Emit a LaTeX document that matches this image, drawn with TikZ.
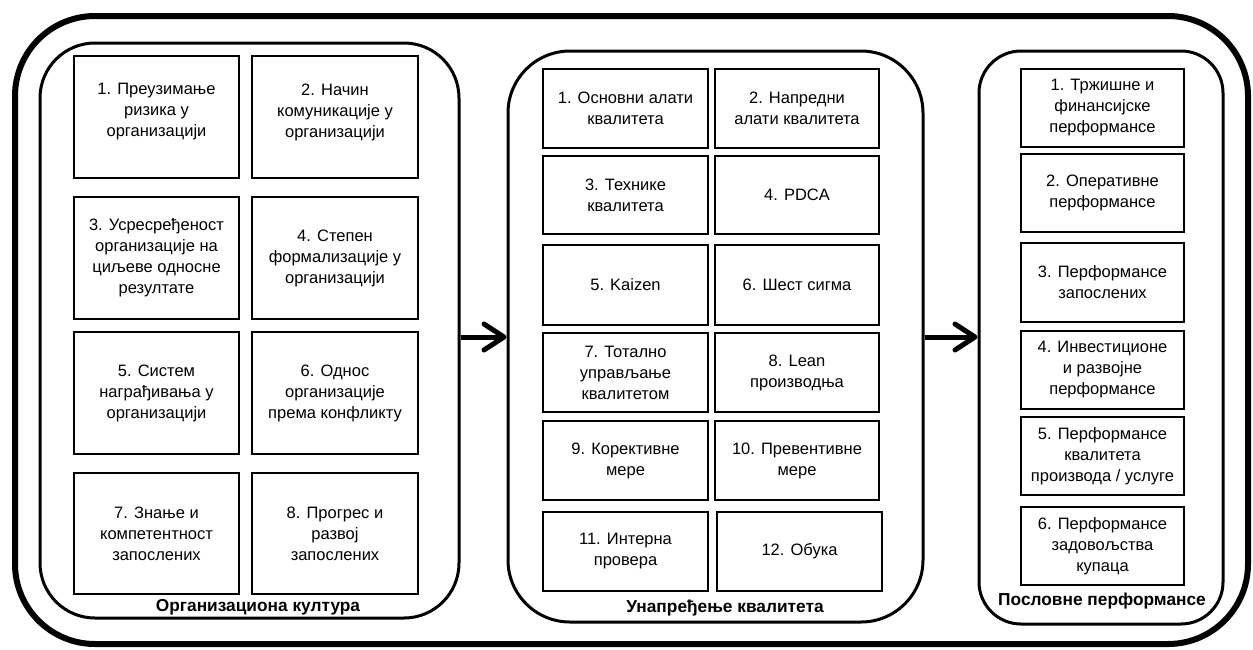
\documentclass[tikz,border=0pt]{standalone}
\usepackage{fontspec}
\setmainfont{Liberation Sans}
\usetikzlibrary{arrows.meta}

% a boxed cell given by its corners: [extra options] name, x1, y1, x2, y2, text
\newcommand\cellat[7][]{%
  \node[cell, #1, minimum width={#5-#3}, minimum height={#6-#4}] (#2)
    at ({(#3+#5)/2},{(#4+#6)/2}) {#7};}
% a rounded panel given by its corners: name, x1, y1, x2, y2, radius
\newcommand\panelat[6]{%
  \node[panel, rounded corners=#6, minimum width={#4-#2}, minimum height={#5-#3}] (#1)
    at ({(#2+#4)/2},{(#3+#5)/2}) {};}

\begin{document}
\begin{tikzpicture}[x=1pt, y=-1pt,
  cell/.style={draw, line width=2pt, inner sep=0pt, align=center,
    font=\fontsize{16.5}{21}\selectfont},
  raised/.style={text depth=13.5pt},
  panel/.style={draw, line width=3pt, inner sep=0pt},
  frame/.style={draw, line width=6pt, inner sep=0pt},
  paneltitle/.style={font=\bfseries\fontsize{17.3}{20}\selectfont, inner sep=0pt, anchor=base},
  flow/.style={line width=5pt, -{Straight Barb[length=20pt, width=26pt, round]}}
]
\useasboundingbox (0,0) rectangle (1253,649);

% outer frame
\node[frame, rounded corners=80pt, minimum width=1233, minimum height=628] (frame)
  at (631.5,330) {};

% the three panels
\panelat{p1}{40}{43}{459}{618}{55pt}
\panelat{p2}{508}{51}{923}{622}{62pt}
\panelat{p3}{979}{51}{1223}{624}{42pt}

% panel 1: organisational culture
\cellat[raised]{a1}{74}{56}{239}{178}{1. Преузимање\\ризика у\\организацији}
\cellat[raised]{a2}{252}{56}{418}{178}{2. Начин\\комуникације у\\организацији}
\cellat{a3}{74}{197}{239}{319}{3. Усресређеност\\организације на\\циљеве односне\\резултате}
\cellat{a4}{252}{197}{418}{319}{4. Степен\\формализације у\\организацији}
\cellat{a5}{74}{332}{239}{454}{5. Систем\\награђивања у\\организацији}
\cellat{a6}{252}{332}{418}{454}{6. Однос\\организације\\према конфликту}
\cellat{a7}{74}{473}{239}{594}{7. Знање и\\компетентност\\запослених}
\cellat{a8}{252}{473}{418}{594}{8. Прогрес и\\развој\\запослених}
\node[paneltitle] (t1) at (258,611) {Организациона култура};

% panel 2: quality improvement
\cellat{b1}{543}{69}{708}{148}{1. Основни алати\\квалитета}
\cellat{b2}{715}{69}{879}{148}{2. Напредни\\алати квалитета}
\cellat{b3}{543}{156}{708}{234}{3. Технике\\квалитета}
\cellat{b4}{715}{156}{879}{234}{4. PDCA}
\cellat{b5}{543}{245}{708}{325}{5. Kaizen}
\cellat{b6}{715}{245}{879}{325}{6. Шест сигма}
\cellat{b7}{543}{333}{708}{412}{7. Тотално\\управљање\\квалитетом}
\cellat{b8}{715}{333}{879}{412}{8. Lean\\производња}
\cellat{b9}{543}{421}{708}{500}{9. Корективне\\мере}
\cellat{b10}{715}{421}{879}{500}{10. Превентивне\\мере}
\cellat{b11}{543}{512}{708}{591}{11. Интерна\\провера}
\cellat{b12}{717}{512}{882}{591}{12. Обука}
\node[paneltitle] (t2) at (725,612) {Унапређење квалитета};

% panel 3: business performance
\cellat{c1}{1021}{69}{1184}{147}{1. Тржишне и\\финансијске\\перформансе}
\cellat{c2}{1021}{154}{1184}{232}{2. Оперативне\\перформансе}
\cellat{c3}{1021}{243}{1184}{322}{3. Перформансе\\запослених}
\cellat{c4}{1021}{331}{1184}{409}{4. Инвестиционе\\и развојне\\перформансе}
\cellat{c5}{1021}{417}{1184}{495}{5. Перформансе\\квалитета\\производа / услуге}
\cellat{c6}{1021}{507}{1184}{585}{6. Перформансе\\задовољства\\купаца}
\node[paneltitle] (t3) at (1102,605) {Пословне перформансе};

% flow between panels
\coordinate (row) at (0,337);
\draw[flow] (p1.east |- row) -- (p2.west |- row);
\draw[flow] (p2.east |- row) -- (p3.west |- row);
\end{tikzpicture}
\end{document}
